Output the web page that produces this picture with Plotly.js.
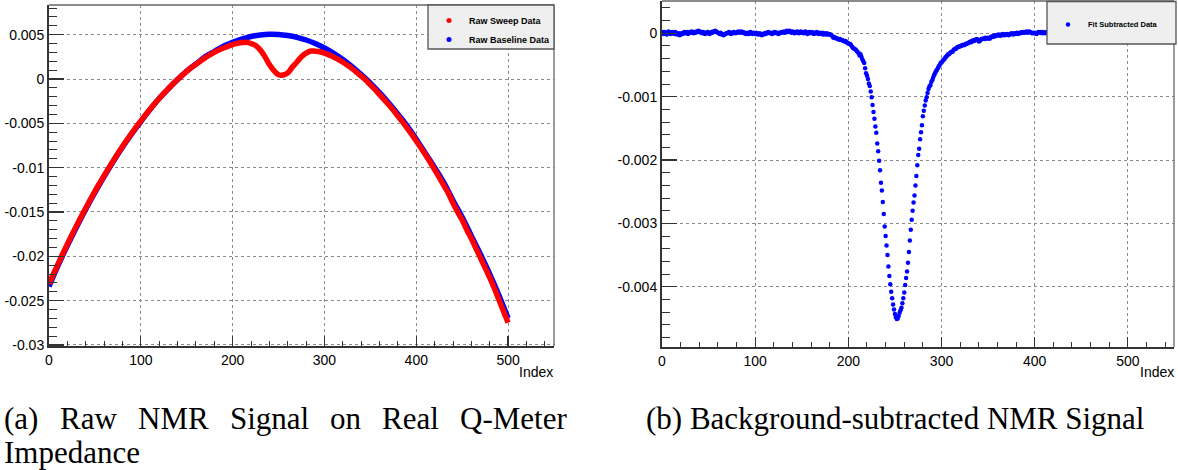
<!DOCTYPE html>
<html>
<head>
<meta charset="utf-8">
<script src="https://cdn.plot.ly/plotly-3.0.1.min.js"></script>
<style>
html,body{margin:0;padding:0;background:#fff;}
#chart{width:1178px;height:470px;}
</style>
</head>
<body>
<div id="chart"></div>
<script>
// ---------------- DATA ----------------
// (a) Raw baseline (blue), sampled every 10 indices
const baselineIndex = [0,10,20,30,40,50,60,70,80,90,100,110,120,130,140,150,160,170,180,190,200,
  210,220,230,240,250,260,270,280,290,300,310,320,330,340,350,360,370,380,390,400,
  410,420,430,440,450,460,470,480,490,500];
const baselineValues = [-0.0234,-0.0210,-0.0188,-0.0167,-0.0147,-0.0128,-0.0110,-0.0093,-0.0077,-0.0062,-0.0048,
  -0.00345,-0.0022,-0.0011,-0.00005,0.0009,0.0017,0.0025,0.0031,0.0037,0.00415,
  0.0045,0.0048,0.00496,0.00504,0.00502,0.0049,0.0047,0.0044,0.0040,0.0035,
  0.0029,0.0022,0.0014,0.0005,-0.00046,-0.00153,-0.0027,-0.00397,-0.0053,-0.0068,
  -0.0084,-0.0100,-0.0117,-0.0137,-0.0156,-0.0177,-0.0198,-0.0220,-0.0244,-0.0270];

// (a) Raw sweep (red), sampled every 5 indices
const sweepIndex = [0,5,10,15,20,25,30,35,40,45,50,55,60,65,70,75,80,85,90,95,100,
  105,110,115,120,125,130,135,140,145,150,155,160,165,170,175,180,185,190,195,200,
  205,210,215,220,225,230,235,240,245,250,255,260,265,270,275,280,285,290,295,300,
  305,310,315,320,325,330,335,340,345,350,355,360,365,370,375,380,385,390,395,400,
  405,410,415,420,425,430,435,440,445,450,455,460,465,470,475,480,485,490,495,500];
const sweepValues = [-0.0231,-0.02195,-0.02082,-0.01971,-0.01863,-0.01757,-0.01654,-0.01553,-0.01455,-0.0136,-0.01267,
  -0.01178,-0.0109,-0.01005,-0.00922,-0.00841,-0.00762,-0.00686,-0.00613,-0.00541,-0.00473,
  -0.00406,-0.00342,-0.0028,-0.0022,-0.00163,-0.00109,-0.00056,-0.00006,0.00041,0.00086,
  0.00128,0.00167,0.00204,0.00239,0.00272,0.00301,0.00326,0.00349,0.0037,0.00389,
  0.00402,0.00412,0.00415,0.00401,0.00378,0.00329,0.00255,0.00163,0.00094,0.00048,
  0.00046,0.0007,0.00134,0.00192,0.00252,0.00291,0.00316,0.00314,0.00307,0.00292,
  0.00272,0.00249,0.00221,0.00189,0.00154,0.00117,0.00076,0.00032,-0.00012,-0.00066,
  -0.00117,-0.00176,-0.00232,-0.00291,-0.00352,-0.00417,-0.00484,-0.00553,-0.00625,-0.00699,
  -0.00776,-0.00855,-0.00937,-0.01022,-0.01109,-0.01199,-0.0129,-0.0140,-0.0150,-0.0159,
  -0.0170,-0.0180,-0.0191,-0.0202,-0.0213,-0.0224,-0.0236,-0.0249,-0.0262,-0.0275];

// (b) Fit-subtracted data, one value per index 0..500
const subtractedValues = [
  0.00001,0.00002,-0.00001,0.00002,0.00001,-0.00002,0.00000,0.00003,0.00001,-0.00001,
  0.00001,0.00002,0.00000,-0.00001,0.00002,0.00001,-0.00002,-0.00001,0.00000,-0.00003,
  -0.00002,0.00000,-0.00001,0.00001,0.00002,0.00000,0.00001,0.00002,-0.00001,0.00001,
  0.00002,0.00001,0.00003,0.00001,0.00000,0.00002,0.00001,0.00003,0.00002,0.00004,
  0.00002,0.00003,0.00001,0.00000,0.00002,0.00001,-0.00001,0.00001,0.00000,0.00002,
  0.00001,-0.00001,0.00000,0.00002,0.00001,0.00003,0.00002,0.00004,0.00003,0.00002,
  0.00001,0.00000,-0.00001,0.00001,-0.00002,-0.00001,-0.00003,-0.00002,-0.00001,0.00000,
  0.00001,0.00000,0.00002,0.00001,-0.00001,0.00001,0.00000,0.00002,0.00001,0.00000,
  0.00001,0.00002,0.00003,0.00001,0.00002,0.00003,0.00001,0.00002,0.00000,0.00001,
  -0.00001,0.00000,0.00001,-0.00001,0.00001,0.00002,0.00000,-0.00001,0.00001,0.00000,
  -0.00001,0.00001,0.00000,-0.00002,-0.00001,0.00000,-0.00002,-0.00003,-0.00001,-0.00002,
  0.00000,-0.00001,0.00001,0.00000,0.00002,0.00001,0.00000,0.00001,-0.00001,0.00001,
  0.00000,0.00002,0.00001,0.00000,0.00001,-0.00001,0.00000,0.00001,0.00002,0.00001,
  0.00002,0.00003,0.00001,0.00002,0.00004,0.00002,0.00003,0.00004,0.00002,0.00001,
  0.00003,0.00002,0.00000,0.00002,0.00001,0.00003,0.00001,0.00000,0.00002,0.00003,
  0.00001,0.00002,0.00000,0.00001,0.00003,0.00001,-0.00001,0.00001,0.00002,0.00000,
  0.00001,0.00002,0.00000,-0.00001,0.00001,0.00000,0.00002,0.00000,-0.00001,0.00001,
  0.00000,-0.00001,0.00001,-0.00002,0.00000,-0.00001,-0.00002,0.00000,-0.00002,-0.00001,
  -0.00002,-0.00002,-0.00003,-0.00005,-0.00007,-0.00006,-0.00007,-0.00008,-0.00008,-0.00009,
  -0.00010,-0.00009,-0.00010,-0.00011,-0.00011,-0.00012,-0.00013,-0.00012,-0.00014,-0.00015,
  -0.00016,-0.00017,-0.00017,-0.00019,-0.00021,-0.00023,-0.00024,-0.00025,-0.00026,-0.00028,
  -0.00030,-0.00031,-0.00035,-0.00033,-0.00037,-0.00041,-0.00044,-0.00047,-0.00055,-0.00063,
  -0.00067,-0.00072,-0.00079,-0.00083,-0.00092,-0.00101,-0.00113,-0.00124,-0.00135,-0.00147,
  -0.00157,-0.00174,-0.00186,-0.00201,-0.00216,-0.00236,-0.00248,-0.00266,-0.00285,-0.00305,
  -0.00320,-0.00335,-0.00350,-0.00368,-0.00383,-0.00396,-0.00408,-0.00418,-0.00428,-0.00436,
  -0.00443,-0.00448,-0.00451,-0.00450,-0.00446,-0.00441,-0.00437,-0.00433,-0.00426,-0.00418,
  -0.00409,-0.00397,-0.00386,-0.00376,-0.00362,-0.00345,-0.00327,-0.00310,-0.00294,-0.00280,
  -0.00267,-0.00256,-0.00240,-0.00225,-0.00208,-0.00192,-0.00182,-0.00167,-0.00156,-0.00145,
  -0.00131,-0.00122,-0.00114,-0.00106,-0.00101,-0.00094,-0.00088,-0.00084,-0.00082,-0.00077,
  -0.00074,-0.00070,-0.00066,-0.00063,-0.00060,-0.00058,-0.00055,-0.00052,-0.00050,-0.00047,
  -0.00046,-0.00044,-0.00042,-0.00041,-0.00038,-0.00037,-0.00035,-0.00033,-0.00033,-0.00031,
  -0.00030,-0.00029,-0.00029,-0.00026,-0.00025,-0.00024,-0.00024,-0.00022,-0.00021,-0.00021,
  -0.00020,-0.00020,-0.00019,-0.00018,-0.00019,-0.00018,-0.00017,-0.00016,-0.00016,-0.00015,
  -0.00014,-0.00013,-0.00014,-0.00012,-0.00011,-0.00012,-0.00010,-0.00010,-0.00009,-0.00011,
  -0.00013,-0.00012,-0.00010,-0.00009,-0.00009,-0.00008,-0.00009,-0.00007,-0.00008,-0.00008,
  -0.00007,-0.00008,-0.00008,-0.00006,-0.00005,-0.00006,-0.00004,-0.00005,-0.00003,-0.00004,
  -0.00003,-0.00002,-0.00003,-0.00004,-0.00002,-0.00003,-0.00001,-0.00002,-0.00003,-0.00002,
  -0.00001,-0.00002,-0.00003,-0.00002,-0.00001,0.00000,-0.00001,-0.00002,0.00000,-0.00001,
  0.00000,0.00001,-0.00001,0.00000,0.00001,0.00000,0.00002,0.00001,0.00002,0.00001,
  0.00002,0.00003,0.00001,0.00002,0.00003,0.00002,0.00001,0.00000,0.00001,0.00000,
  0.00001,0.00000,-0.00001,0.00001,0.00002,0.00001,0.00002,0.00001,0.00000,0.00002,
  0.00001,0.00000,0.00001,0.00002,0.00000,0.00001,-0.00001,0.00000,0.00001,0.00002,
  0.00001,0.00000,0.00002,0.00001,0.00000,0.00001,0.00002,0.00000,-0.00001,0.00001,
  0.00000,0.00001,0.00002,0.00001,0.00000,-0.00001,0.00000,0.00001,0.00000,0.00002,
  0.00001,0.00000,0.00001,0.00002,0.00001,0.00000,0.00001,-0.00001,0.00000,0.00001,
  0.00002,0.00001,0.00000,0.00001,0.00000,0.00002,0.00001,0.00000,-0.00001,0.00000,
  0.00001,0.00002,0.00001,0.00000,0.00001,0.00000,-0.00001,0.00000,0.00001,0.00002,
  0.00001,0.00000,0.00001,0.00000,0.00002,0.00001,0.00000,0.00001,0.00000,-0.00001,
  0.00000,0.00001,0.00002,0.00001,0.00000,0.00001,0.00000,0.00002,0.00001,0.00000,
  0.00001,0.00000,-0.00001,0.00000,0.00001,0.00002,0.00001,0.00000,0.00001,0.00000,
  0.00001];
const subtractedIndex = subtractedValues.map((_, k) => k);

// Tick labels
const xTickVals = [0,100,200,300,400,500];
const xTickText = ['0','100','200','300','400','500'];
const leftYTickVals = [0.005,0,-0.005,-0.01,-0.015,-0.02,-0.025,-0.03];
const leftYTickText = ['0.005','0','-0.005','-0.01','-0.015','-0.02','-0.025','-0.03'];
const rightYTickVals = [0,-0.001,-0.002,-0.003,-0.004];
const rightYTickText = ['0','-0.001','-0.002','-0.003','-0.004'];

const seriesNames = ['Raw Sweep Data','Raw Baseline Data','Fit Subtracted Data'];
const captionA1 = ['(a)','Raw','NMR','Signal','on','Real','Q-Meter'];
const captionA2 = 'Impedance';
const captionB = '(b) Background-subtracted NMR Signal';
const axisTitle = 'Index';

// ---------------- LAYOUT ----------------
const W = 1178, H = 470;
const fx = p => p / W;
const fy = p => 1 - p / H;

const tickFont = {family: 'Liberation Sans', size: 14, color: '#000'};
const axisDark = '#333';

function xAxis(domain, range) {
  return {
    domain: domain, range: range, tickmode: 'array', tickvals: xTickVals, ticktext: xTickText,
    ticks: 'inside', ticklen: 10, tickwidth: 1.2, tickcolor: axisDark,
    showline: true, linecolor: axisDark, linewidth: 2,
    showgrid: true, gridcolor: '#8a8a8a', griddash: 'dot', gridwidth: 1,
    zeroline: false, tickfont: tickFont, fixedrange: true,
    minor: {tickmode: 'linear', tick0: 0, dtick: 20, ticks: 'inside', ticklen: 5, tickwidth: 1, tickcolor: axisDark, showgrid: false}
  };
}
function yAxis(domain, range, vals, text, minorStep) {
  return {
    domain: domain, range: range, tickmode: 'array', tickvals: vals, ticktext: text,
    ticks: 'inside', ticklen: 15, tickwidth: 1.2, tickcolor: axisDark,
    showline: true, linecolor: axisDark, linewidth: 2,
    showgrid: true, gridcolor: '#8a8a8a', griddash: 'dot', gridwidth: 1,
    zeroline: false, tickfont: tickFont, fixedrange: true,
    minor: {tickmode: 'linear', tick0: 0, dtick: minorStep, ticks: 'inside', ticklen: 7.5, tickwidth: 1, tickcolor: axisDark, showgrid: false}
  };
}

const traces = [
  {x: baselineIndex, y: baselineValues, xaxis: 'x', yaxis: 'y', mode: 'lines',
   line: {color: '#0000ff', width: 5.5, shape: 'spline'}, showlegend: false, hoverinfo: 'skip'},
  {x: sweepIndex, y: sweepValues, xaxis: 'x', yaxis: 'y', mode: 'lines',
   line: {color: '#ff0000', width: 5.5, shape: 'spline'}, showlegend: false, hoverinfo: 'skip'},
  // legend entries (marker style, as in the original)
  {x: [null], y: [null], xaxis: 'x', yaxis: 'y', mode: 'markers', name: seriesNames[0],
   marker: {color: '#ff0000', size: 5}, legend: 'legend', legendgroup: 'a'},
  {x: [null], y: [null], xaxis: 'x', yaxis: 'y', mode: 'markers', name: seriesNames[1],
   marker: {color: '#0000ff', size: 5}, legend: 'legend', legendgroup: 'b'},
  {x: subtractedIndex, y: subtractedValues, xaxis: 'x2', yaxis: 'y2', mode: 'markers', name: seriesNames[2],
   marker: {color: '#0000ff', size: 4.5}, legend: 'legend2', hoverinfo: 'skip'}
];

const annotations = [
  {text: axisTitle, xref: 'paper', yref: 'paper', x: fx(555), y: fy(372), xanchor: 'right', yanchor: 'middle',
   showarrow: false, font: {family: 'Liberation Sans', size: 14, color: '#000'}},
  {text: axisTitle, xref: 'paper', yref: 'paper', x: fx(1176), y: fy(372), xanchor: 'right', yanchor: 'middle',
   showarrow: false, font: {family: 'Liberation Sans', size: 14, color: '#000'}}
];
const capFont = {family: 'Liberation Serif', size: 31, color: '#000'};
// justified first line: equal gaps between words
const capA1Left = [2, 58, 136, 228, 328, 380, 458];
captionA1.forEach((w, k) => annotations.push({text: w, xref: 'paper', yref: 'paper', x: fx(capA1Left[k]), y: fy(418),
  xanchor: 'left', yanchor: 'middle', showarrow: false, font: capFont}));
annotations.push({text: captionA2, xref: 'paper', yref: 'paper', x: fx(2), y: fy(452), xanchor: 'left', yanchor: 'middle', showarrow: false, font: capFont});
annotations.push({text: captionB, xref: 'paper', yref: 'paper', x: fx(644), y: fy(418), xanchor: 'left', yanchor: 'middle', showarrow: false, font: capFont});

const frame = (xr, yr) => [
  {type: 'line', xref: xr + ' domain', yref: yr + ' domain', x0: 0, x1: 1, y0: 1, y1: 1, line: {color: '#666', width: 1.3}, layer: 'above'},
  {type: 'line', xref: xr + ' domain', yref: yr + ' domain', x0: 1, x1: 1, y0: 0, y1: 1, line: {color: '#666', width: 1.3}, layer: 'above'}
];
const shapes = [].concat(frame('x', 'y'), frame('x2', 'y2'), [
  {type: 'rect', xref: 'paper', yref: 'paper', x0: fx(428), x1: fx(554), y0: fy(49), y1: fy(5),
   fillcolor: '#efefef', line: {color: '#555', width: 1.3}, layer: 'above'},
  {type: 'rect', xref: 'paper', yref: 'paper', x0: fx(1047), x1: fx(1176), y0: fy(44), y1: fy(1.5),
   fillcolor: '#efefef', line: {color: '#555', width: 1.3}, layer: 'above'}
]);

const layout = {
  width: W, height: H, margin: {l: 0, r: 0, t: 0, b: 0},
  paper_bgcolor: '#fff', plot_bgcolor: '#fff',
  xaxis: xAxis([fx(49), fx(554)], [0, 550]),
  yaxis: yAxis([fy(346), fy(5)], [-0.03012, 0.00835], leftYTickVals, leftYTickText, 0.001),
  xaxis2: Object.assign(xAxis([fx(662), fx(1174)], [0, 549.5]), {anchor: 'y2'}),
  yaxis2: Object.assign(yAxis([fy(347), fy(1)], [-0.00495, 0.00051], rightYTickVals, rightYTickText, 0.0002), {anchor: 'x2'}),
  showlegend: true,
  legend: {x: fx(429), y: fy(6), xanchor: 'left', yanchor: 'top', bgcolor: 'rgba(0,0,0,0)', borderwidth: 0,
    font: {family: 'Liberation Sans', size: 9, weight: 'bold', color: '#000'},
    itemwidth: 30, tracegroupgap: 2, traceorder: 'normal'},
  legend2: {x: fx(1048), y: fy(10), xanchor: 'left', yanchor: 'top', bgcolor: 'rgba(0,0,0,0)', borderwidth: 0,
    font: {family: 'Liberation Sans', size: 7.5, weight: 'bold', color: '#000'},
    itemwidth: 30},
  annotations: annotations,
  shapes: shapes
};

layout.xaxis.anchor = 'y';
layout.yaxis.anchor = 'x';

Plotly.newPlot('chart', traces, layout, {displayModeBar: false, staticPlot: true});
</script>
</body>
</html>
